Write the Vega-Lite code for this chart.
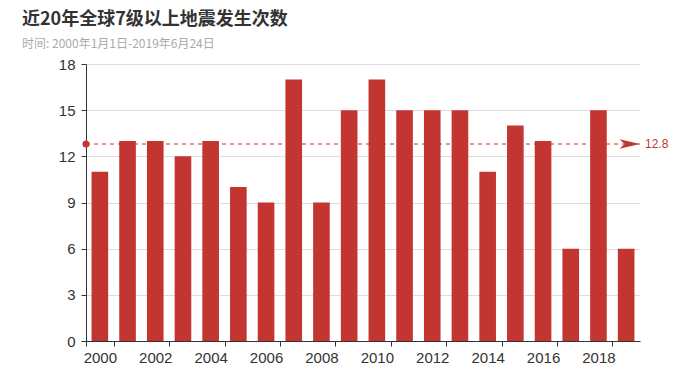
{
  "$schema": "https://vega.github.io/schema/vega-lite/v6.json",
  "autosize": {"type": "none"},
  "width": 554,
  "height": 277,
  "padding": {"left": 86, "top": 64, "right": 50, "bottom": 43},
  "background": "#ffffff",
  "title": {
    "text": "近20年全球7级以上地震发生次数",
    "subtitle": "时间: 2000年1月1日-2019年6月24日",
    "anchor": "start",
    "frame": "group",
    "dx": -64,
    "offset": 7,
    "font": "Noto Sans CJK SC",
    "fontSize": 18,
    "fontWeight": "bold",
    "color": "#333333",
    "subtitleFont": "Noto Sans CJK SC",
    "subtitleFontSize": 12,
    "subtitleColor": "#aaaaaa",
    "subtitlePadding": 10
  },
  "config": {
    "view": {"stroke": null},
    "font": "Liberation Sans"
  },
  "datasets": {
    "quakes": [
      {"year": 2000, "count": 11},
      {"year": 2001, "count": 13},
      {"year": 2002, "count": 13},
      {"year": 2003, "count": 12},
      {"year": 2004, "count": 13},
      {"year": 2005, "count": 10},
      {"year": 2006, "count": 9},
      {"year": 2007, "count": 17},
      {"year": 2008, "count": 9},
      {"year": 2009, "count": 15},
      {"year": 2010, "count": 17},
      {"year": 2011, "count": 15},
      {"year": 2012, "count": 15},
      {"year": 2013, "count": 15},
      {"year": 2014, "count": 11},
      {"year": 2015, "count": 14},
      {"year": 2016, "count": 13},
      {"year": 2017, "count": 6},
      {"year": 2018, "count": 15},
      {"year": 2019, "count": 6}
    ],
    "avg": [
      {"start": 2000, "end": 2019, "mean": 12.8, "label": "12.8"}
    ]
  },
  "layer": [
    {
      "data": {"name": "quakes"},
      "mark": {"type": "bar", "color": "#c23531", "width": {"band": 0.6}},
      "encoding": {
        "x": {
          "field": "year",
          "type": "ordinal",
          "scale": {"paddingInner": 0, "paddingOuter": 0},
          "axis": {
            "title": null,
            "labelAngle": 0,
            "tickBand": "extent",
            "labelExpr": "datum.value % 2 == 0 ? datum.label : ''",
            "labelOverlap": false,
            "labelFontSize": 15,
            "labelColor": "#333333",
            "labelPadding": 4,
            "domainColor": "#333333",
            "tickColor": {"condition": {"test": "datum.value % 2 == 1", "value": "transparent"}, "value": "#333333"},
            "tickSize": 5,
            "grid": false
          }
        },
        "y": {
          "field": "count",
          "type": "quantitative",
          "scale": {"domain": [0, 18], "nice": false},
          "axis": {
            "title": null,
            "values": [0, 3, 6, 9, 12, 15, 18],
            "labelFontSize": 15,
            "labelColor": "#333333",
            "labelPadding": 6,
            "domainColor": "#333333",
            "tickColor": "#333333",
            "tickSize": 5,
            "gridColor": "#dddddd"
          }
        }
      }
    },
    {
      "data": {"name": "avg"},
      "mark": {"type": "rule", "color": "#c23531", "strokeDash": [4, 4], "strokeWidth": 1},
      "encoding": {
        "x": {"field": "start", "type": "ordinal", "bandPosition": 0},
        "x2": {"field": "end", "bandPosition": 1},
        "y": {"field": "mean", "type": "quantitative"}
      }
    },
    {
      "data": {"name": "avg"},
      "mark": {"type": "point", "shape": "circle", "filled": true, "color": "#c23531", "size": 50, "opacity": 1},
      "encoding": {
        "x": {"field": "start", "type": "ordinal", "bandPosition": 0},
        "y": {"field": "mean", "type": "quantitative"}
      }
    },
    {
      "data": {"name": "avg"},
      "mark": {"type": "point", "shape": "M-2,-0.47L0,0L-2,0.47L-1.5,0Z", "filled": true, "color": "#c23531", "size": 420, "opacity": 1},
      "encoding": {
        "x": {"field": "end", "type": "ordinal", "bandPosition": 1},
        "y": {"field": "mean", "type": "quantitative"}
      }
    },
    {
      "data": {"name": "avg"},
      "mark": {"type": "text", "color": "#c23531", "fontSize": 12, "align": "left", "baseline": "middle", "dx": 5},
      "encoding": {
        "x": {"field": "end", "type": "ordinal", "bandPosition": 1},
        "y": {"field": "mean", "type": "quantitative"},
        "text": {"field": "label"}
      }
    }
  ]
}
